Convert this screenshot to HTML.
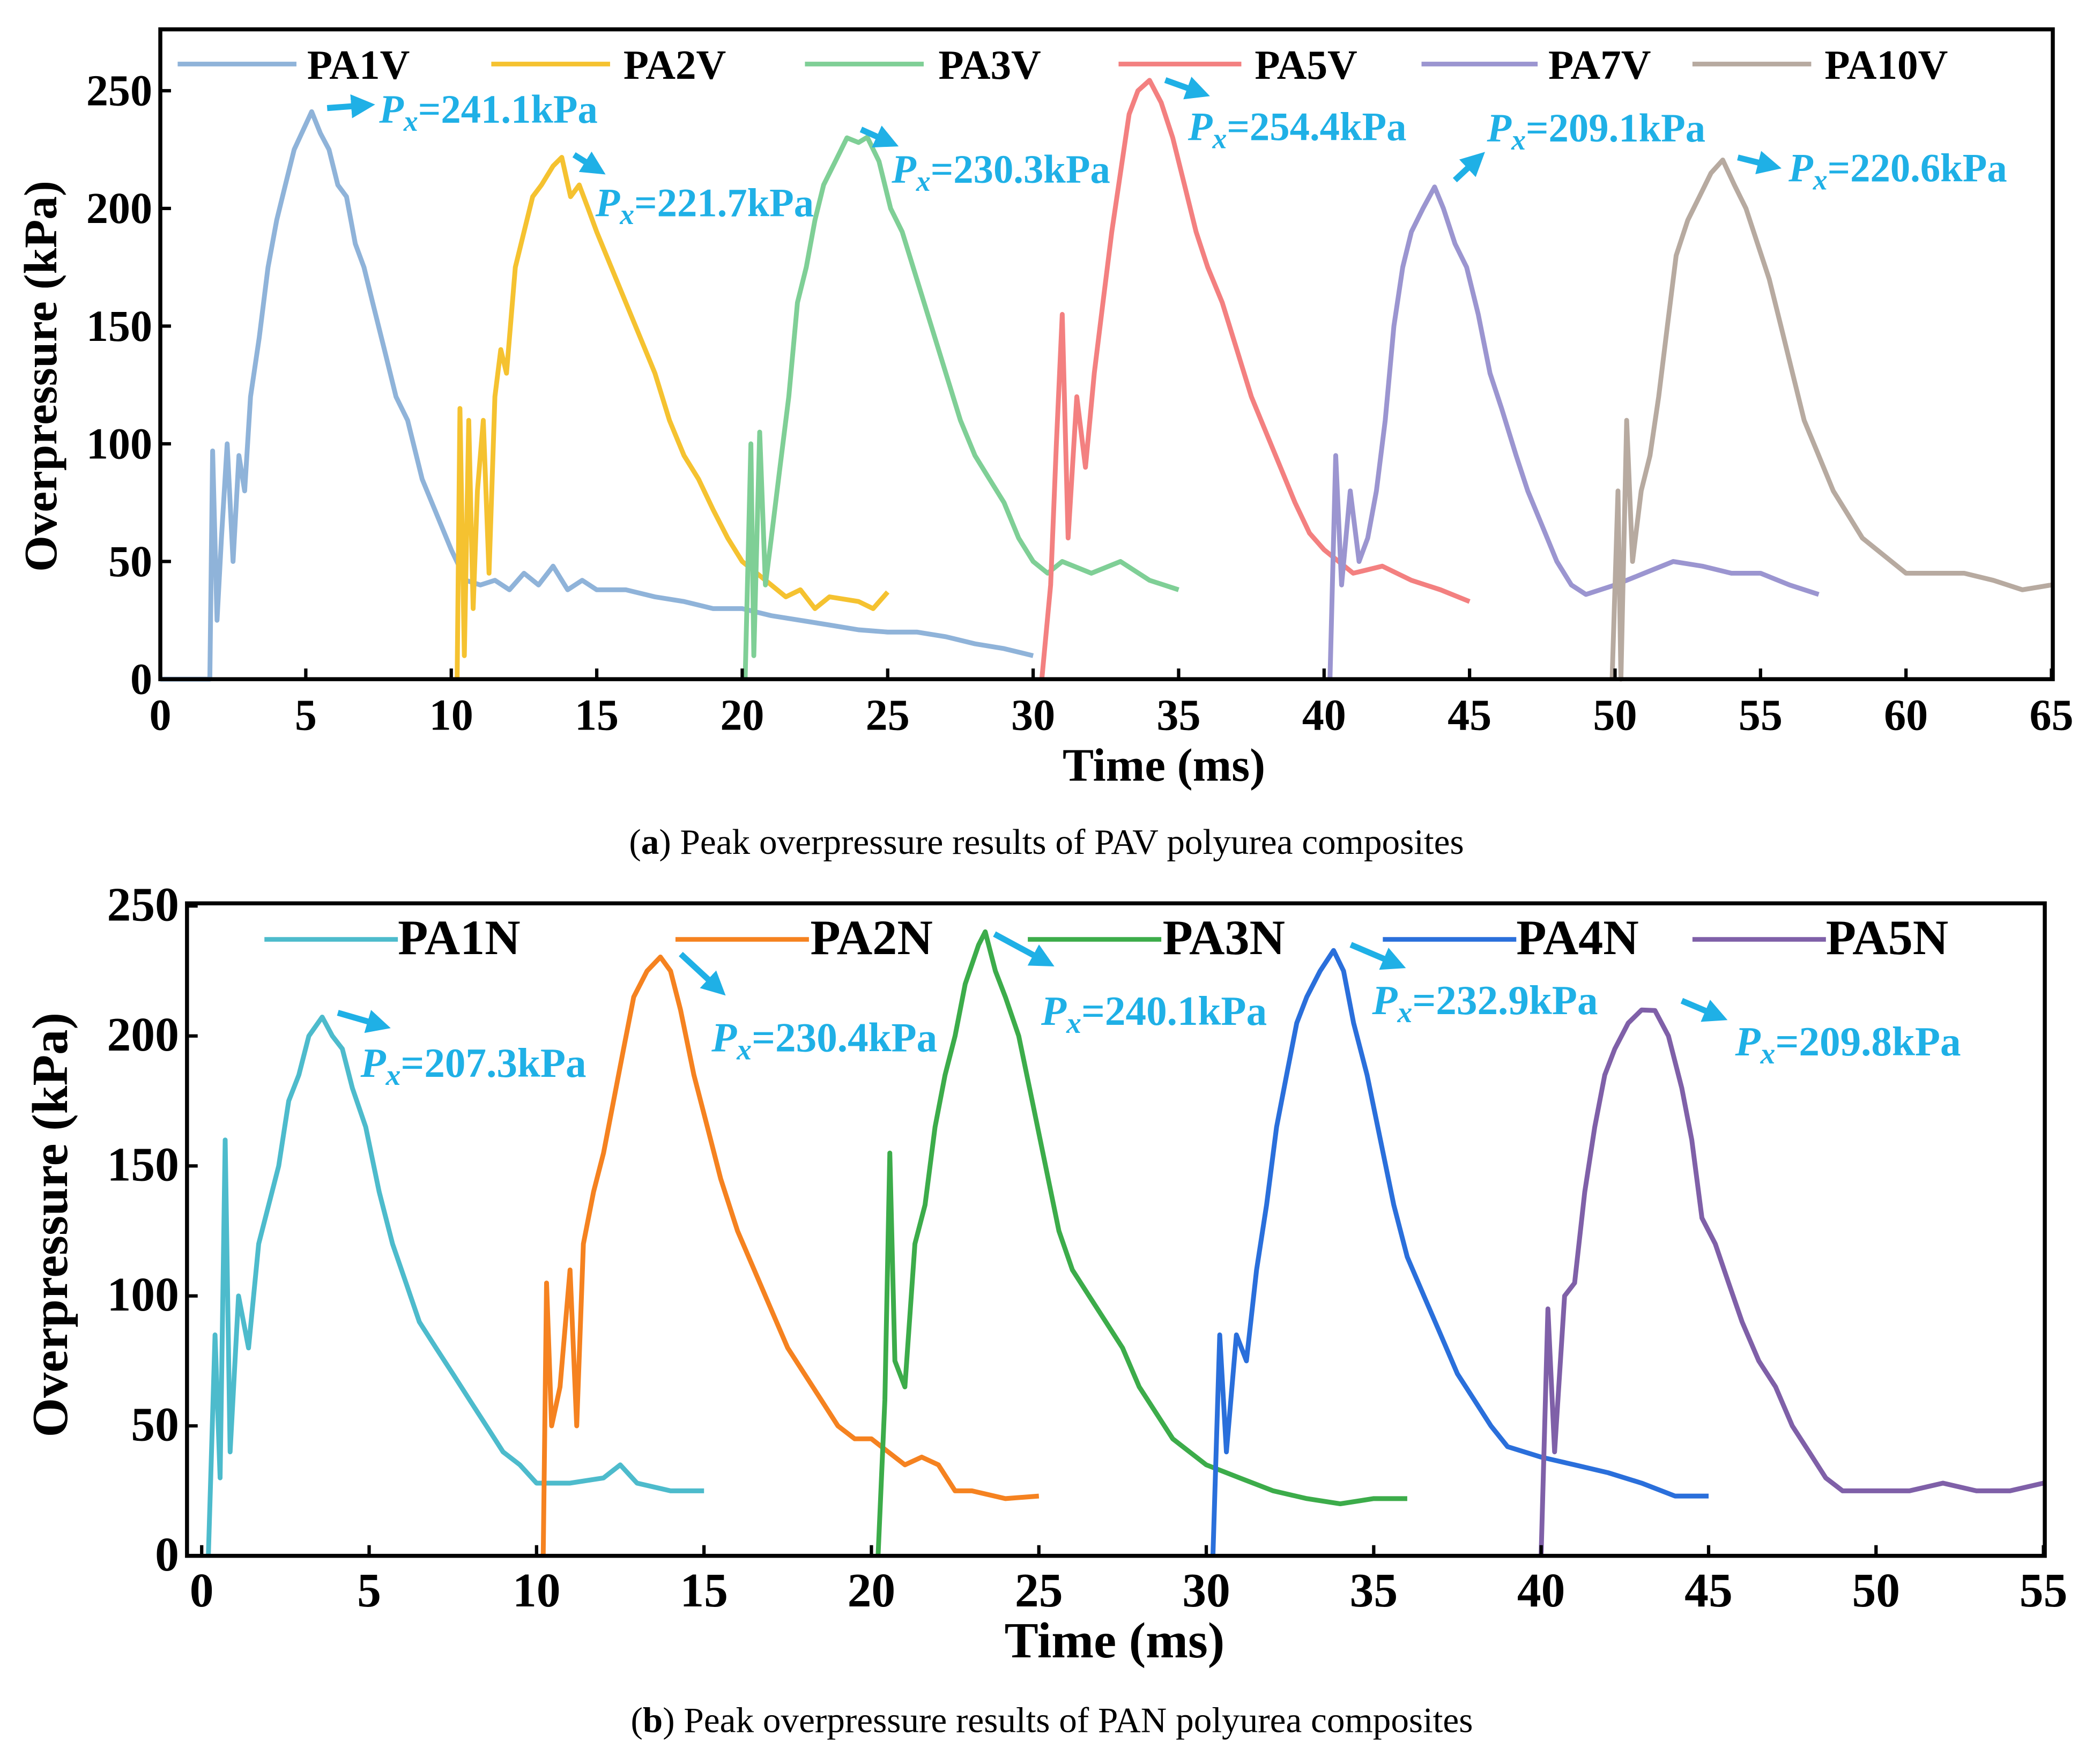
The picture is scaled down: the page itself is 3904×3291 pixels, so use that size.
<!DOCTYPE html>
<html><head><meta charset="utf-8"><style>
html,body{margin:0;padding:0;background:#fff;}
svg{display:block;font-family:"Liberation Serif","DejaVu Serif",serif;}
svg text{font-family:"Liberation Serif","DejaVu Serif",serif;}
</style></head>
<body>
<svg id="fig" width="3904" height="3291" viewBox="0 0 1568 1322" font-family="Liberation Serif, serif" xmlns="http://www.w3.org/2000/svg">
<defs>
<marker id="ah" markerWidth="4" markerHeight="4" refX="2" refY="2" orient="auto" markerUnits="strokeWidth"><path d="M0,0 L4,2 L0,4 z" fill="#1fb0e6"/></marker>
</defs>
<rect width="1568" height="1322" fill="#fff"/>
<g id="pa"></g>
<g id="pb"></g>
<text x="784" y="640" text-anchor="middle" font-size="27" font-family="Liberation Serif, serif">(<tspan font-weight="bold">a</tspan>) Peak overpressure results of PAV polyurea composites</text>
<text x="788" y="1298" text-anchor="middle" font-size="27" font-family="Liberation Serif, serif">(<tspan font-weight="bold">b</tspan>) Peak overpressure results of PAN polyurea composites</text>
</svg>
<script>
// ---- Panel A data ----
const aNames=["PA1V","PA2V","PA3V","PA5V","PA7V","PA10V"];
const aColors=["#8fb3d9","#f5c230","#7fcf96","#f38080","#9b95d0","#b7aaa0"];
const aT1=[0,1.7,1.8,1.95,2.1,2.3,2.5,2.7,2.9,3.1,3.4,3.7,4.0,4.3,4.6,4.9,5.2,5.5,5.8,6.1,6.4,6.7,7.0,7.3,7.7,8.1,8.5,9.0,9.5,10.0,10.5,11,11.5,12,12.5,13,13.5,14,14.5,15,16,17,18,19,20,21,22,23,24,25,26,27,28,29,30];
const aV1=[0,0,97,25,60,100,50,95,80,120,145,175,195,210,225,233,241.1,232,225,210,205,185,175,160,140,120,110,85,70,55,42,40,42,38,45,40,48,38,42,38,38,35,33,30,30,27,25,23,21,20,20,18,15,13,10];
const aT2=[10.2,10.3,10.45,10.6,10.75,10.9,11.1,11.3,11.5,11.7,11.9,12.2,12.5,12.8,13.1,13.5,13.8,14.1,14.4,14.7,15.0,15.5,16,16.5,17,17.5,18,18.5,19,19.5,20,20.5,21,21.5,22,22.5,23,24,24.5,25];
const aV2=[0,115,10,110,30,80,110,45,120,140,130,175,190,205,210,218,221.7,205,210,200,190,175,160,145,130,110,95,85,72,60,50,45,40,35,38,30,35,33,30,37];
const aT3=[20.1,20.3,20.4,20.6,20.8,21.0,21.3,21.6,21.9,22.2,22.5,22.8,23.2,23.6,24.0,24.3,24.7,25.1,25.5,26,26.5,27,27.5,28,28.5,29,29.5,30,30.5,31,32,33,34,35];
const aV3=[0,100,10,105,40,60,90,120,160,175,195,210,220,230,228,230.3,220,200,190,170,150,130,110,95,85,75,60,50,45,50,45,50,42,38];
const aT5=[30.3,30.6,30.8,31.0,31.2,31.5,31.8,32.1,32.4,32.7,33.0,33.3,33.6,34.0,34.4,34.8,35.2,35.6,36,36.5,37,37.5,38,38.5,39,39.5,40,40.5,41,42,43,44,45];
const aV5=[0,40,100,155,60,120,90,130,160,190,215,240,250,254.4,245,230,210,190,175,160,140,120,105,90,75,62,55,50,45,48,42,38,33];
const aT7=[40.2,40.4,40.6,40.9,41.2,41.5,41.8,42.1,42.4,42.7,43.0,43.4,43.8,44.1,44.5,44.9,45.3,45.7,46.1,46.6,47,47.5,48,48.5,49,50,51,52,53,54,55,56,57];
const aV7=[0,95,40,80,50,60,80,110,150,175,190,200,209.1,200,185,175,155,130,115,95,80,65,50,40,36,40,45,50,48,45,45,40,36];
const aT10=[49.9,50.1,50.2,50.4,50.6,50.9,51.2,51.5,51.8,52.1,52.5,52.9,53.3,53.7,54.1,54.5,54.9,55.3,55.7,56.1,56.5,57,57.5,58,58.5,59,60,61,62,63,64,65];
const aV10=[0,80,0,110,50,80,95,120,150,180,195,205,215,220.6,210,200,185,170,150,130,110,95,80,70,60,55,45,45,45,42,38,40];
const aXTicks=[0,5,10,15,20,25,30,35,40,45,50,55,60,65];
const aYTicks=[0,50,100,150,200,250];
const aPeaks=["241.1","221.7","230.3","254.4","209.1","220.6"];
// ---- Panel B data ----
const bNames=["PA1N","PA2N","PA3N","PA4N","PA5N"];
const bColors=["#4dbbcc","#f58220","#3cac4a","#2a6fdb","#7f60a8"];
const bT1=[0.2,0.4,0.55,0.7,0.85,1.1,1.4,1.7,2.0,2.3,2.6,2.9,3.2,3.6,3.9,4.2,4.5,4.9,5.3,5.7,6.1,6.5,7,7.5,8,8.5,9,9.5,10,11,12,12.5,13,14,15];
const bV1=[0,85,30,160,40,100,80,120,135,150,175,185,200,207.3,200,195,180,165,140,120,105,90,80,70,60,50,40,35,28,28,30,35,28,25,25];
const bT2=[10.2,10.3,10.45,10.7,11.0,11.2,11.4,11.7,12,12.3,12.6,12.9,13.3,13.7,14.0,14.3,14.7,15.1,15.5,16,16.5,17,17.5,18,18.5,19,19.5,20,20.5,21,21.5,22,22.5,23,24,25];
const bV2=[0,105,50,65,110,50,120,140,155,175,195,215,225,230.4,225,210,185,165,145,125,110,95,80,70,60,50,45,45,40,35,38,35,25,25,22,23];
const bT3=[20.2,20.4,20.55,20.7,21.0,21.3,21.6,21.9,22.2,22.5,22.8,23.2,23.4,23.7,24,24.4,24.8,25.2,25.6,26,26.5,27,27.5,28,28.5,29,29.5,30,31,32,33,34,35,36];
const bV3=[0,60,155,75,65,120,135,165,185,200,220,235,240.1,225,215,200,175,150,125,110,100,90,80,65,55,45,40,35,30,25,22,20,22,22];
const bT4=[30.2,30.4,30.6,30.9,31.2,31.5,31.8,32.1,32.4,32.7,33.0,33.4,33.8,34.1,34.4,34.8,35.2,35.6,36,36.5,37,37.5,38,38.5,39,40,41,42,43,44,45];
const bV4=[0,85,40,85,75,110,135,165,185,205,215,225,232.9,225,205,185,160,135,115,100,85,70,60,50,42,38,35,32,28,23,23];
const bT5=[40.0,40.2,40.4,40.7,41.0,41.3,41.6,41.9,42.2,42.6,43.0,43.4,43.8,44.2,44.5,44.8,45.2,45.6,46,46.5,47,47.5,48,48.5,49,50,51,52,53,54,55];
const bV5=[0,95,40,100,105,140,165,185,195,205,210,209.8,200,180,160,130,120,105,90,75,65,50,40,30,25,25,25,28,25,25,28];
const bXTicks=[0,5,10,15,20,25,30,35,40,45,50,55];
const bYTicks=[0,50,100,150,200,250];
const bPeaks=["207.3","230.4","240.1","232.9","209.8"];

const NS="http://www.w3.org/2000/svg";
const FF="Liberation Serif, serif";
function mk(parent,tag,attrs,txt){const e=document.createElementNS(NS,tag);for(const k in attrs)e.setAttribute(k,attrs[k]);if(tag==="text")e.setAttribute("font-family",FF);if(txt!==undefined)e.textContent=txt;parent.appendChild(e);return e;}

function drawPanel(g,cfg){
  const {x0,x1,y0,y1,xmax}=cfg;
  const X=t=>cfg.xz+t*(cfg.xe-cfg.xz)/xmax;
  const Y=v=>cfg.yz-v*(cfg.yz-cfg.yt)/250;
  cfg.series.forEach((s,i)=>{
    const d=s.t.map((t,j)=>(j?"L":"M")+X(t).toFixed(1)+","+Y(s.v[j]).toFixed(1)).join("");
    const p=mk(g,"path",{d:d,fill:"none",stroke:cfg.colors[i],"stroke-width":3.6,"stroke-linejoin":"round"});
    
    
  });
  const fr=mk(g,"rect",{x:x0,y:y0,width:x1-x0,height:y1-y0,fill:"none",stroke:"#000","stroke-width":3});
  
  
  cfg.xticks.forEach(t=>{
    mk(g,"line",{x1:X(t),x2:X(t),y1:y1,y2:y1-8,stroke:"#000","stroke-width":2.5});
    const tx=mk(g,"text",{x:X(t),y:y1+38,"text-anchor":"middle","font-size":cfg.tfs,"font-weight":"bold"},String(t));
    
    
  });
  cfg.yticks.forEach(v=>{
    mk(g,"line",{x1:x0,x2:x0+8,y1:Y(v),y2:Y(v),stroke:"#000","stroke-width":2.5});
    const tx=mk(g,"text",{x:x0-6,y:Y(v)+11,"text-anchor":"end","font-size":cfg.tfs,"font-weight":"bold"},String(v));
    
    
  });
  const xt=mk(g,"text",{x:cfg.xtx,y:cfg.xty,"text-anchor":"middle","font-size":cfg.afs,"font-weight":"bold"},"Time (ms)");
  
  
  const yt=mk(g,"text",{x:0,y:0,"text-anchor":"middle","font-size":cfg.afs,"font-weight":"bold",transform:`translate(${cfg.ytx},${cfg.yty}) rotate(-90)`},"Overpressure (kPa)");
  
  
  cfg.legend.forEach((L,i)=>{
    const lg=mk(g,"g",{});
    
    
    mk(lg,"line",{x1:L[0],x2:L[1],y1:cfg.ly,y2:cfg.ly,stroke:cfg.colors[i],"stroke-width":3.5});
    mk(lg,"text",{x:L[2],y:cfg.ly+11,"font-size":cfg.lfs,"font-weight":"bold"},cfg.names[i]);
  });
  cfg.ann.forEach((A,i)=>{
    const ag=mk(g,"g",{});
    
    
    mk(ag,"line",{x1:A[3],y1:A[4],x2:A[5],y2:A[6],stroke:"#1fb0e6","stroke-width":4.5,"marker-end":"url(#ah)"});
    const t=mk(ag,"text",{x:A[0],y:A[1],"font-size":cfg.nfs,"font-weight":"bold",fill:"#1fb0e6"});
    mk(t,"tspan",{"font-style":"italic"},"P");
    mk(t,"tspan",{"font-style":"italic",dy:6,"font-size":cfg.nfs*0.72},"x");
    mk(t,"tspan",{dy:-6},"="+cfg.peaks[i]+"kPa");
  });
}

drawPanel(document.getElementById("pa"),{
  x0:120,x1:1538,y0:22,y1:509,xmax:65,xz:120,xe:1537,yz:509,yt:68,
  series:[{t:aT1,v:aV1},{t:aT2,v:aV2},{t:aT3,v:aV3},{t:aT5,v:aV5},{t:aT7,v:aV7},{t:aT10,v:aV10}],
  colors:aColors,names:aNames,xticks:aXTicks,yticks:aYTicks,peaks:aPeaks,
  tfs:33,afs:35,lfs:31,nfs:30,xtx:872,xty:585,ytx:42,yty:282,ly:48,
  legend:[[133,222,230],[368,457,467],[603,692,703],[838,930,940],[1065,1152,1160],[1268,1357,1367]],
  ann:[[284,92,0,245,81,272,79],[446,162,0,430,116,446,126],[668,137,0,645,97,665,106],[890,105,0,873,60,898,69],[1114,106,0,1090,135,1106,120],[1340,136,0,1302,118,1326,124]]
});
drawPanel(document.getElementById("pb"),{
  x0:140,x1:1532,y0:677,y1:1166,xmax:55,xz:151,xe:1531,yz:1166,yt:679,
  series:[{t:bT1,v:bV1},{t:bT2,v:bV2},{t:bT3,v:bV3},{t:bT4,v:bV4},{t:bT5,v:bV5}],
  colors:bColors,names:bNames,xticks:bXTicks,yticks:bYTicks,peaks:bPeaks,
  tfs:36,afs:38,lfs:37,nfs:31,xtx:835,xty:1242,ytx:50,yty:918,ly:704,
  legend:[[198,298,298],[506,606,607],[770,870,871],[1036,1136,1136],[1268,1368,1368]],
  ann:[[270,807,0,253,759,284,768],[533,788,0,510,715,537,740],[780,768,0,745,700,782,720],[1028,760,0,1012,708,1045,722],[1300,791,0,1260,750,1286,761]]
});
</script>
</body></html>
